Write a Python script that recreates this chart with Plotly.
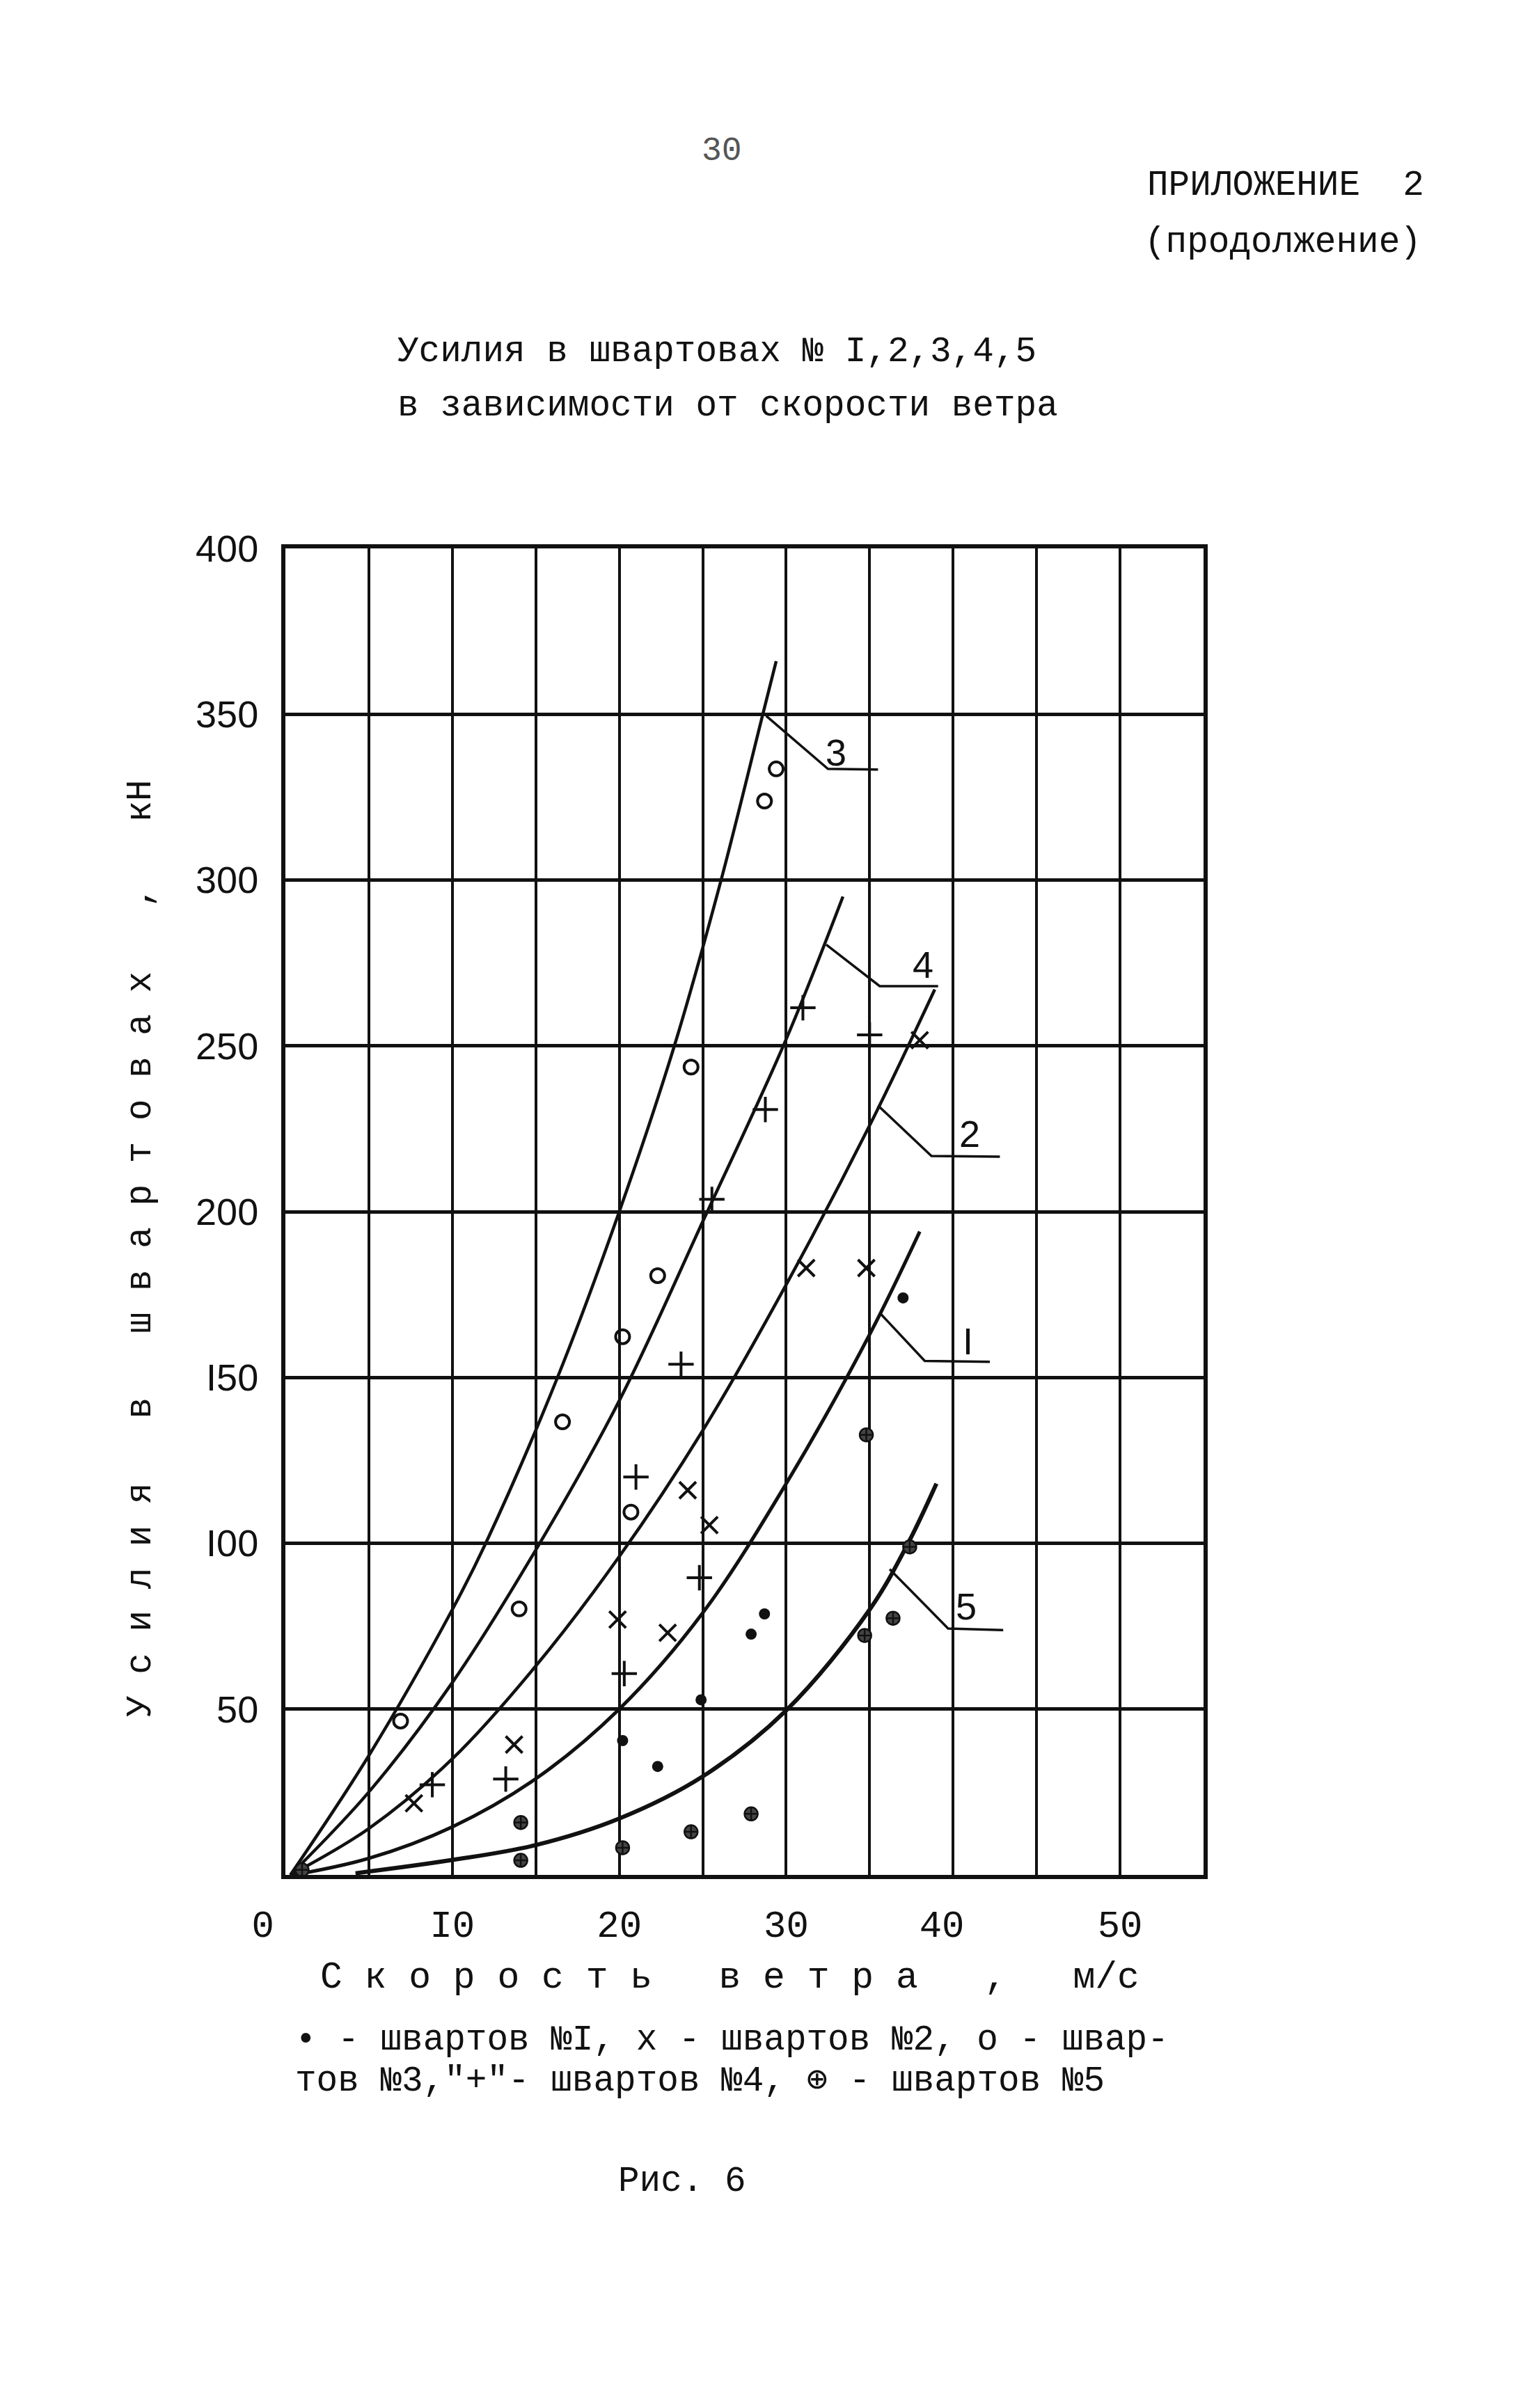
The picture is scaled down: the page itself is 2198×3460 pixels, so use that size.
import plotly.graph_objects as go

# ---------------- data ----------------
# Fitted curves: wind speed (m/s) -> force (kN)
curve3_v = [0.3, 5.0, 10.0, 12.0, 16.3, 20.0, 23.3, 26.1, 28.6, 29.4]
curve3_f = [0.0, 36.0, 80.0, 100.0, 150.0, 200.0, 250.0, 300.0, 350.0, 366.0]

curve4_v = [0.3, 5.0, 10.0, 15.0, 20.0, 25.0, 30.0, 33.4]
curve4_f = [0.0, 25.0, 58.0, 98.0, 143.0, 197.0, 252.0, 295.0]

curve2_v = [0.3, 5.0, 10.0, 15.0, 20.0, 25.0, 30.0, 35.0, 38.9]
curve2_f = [0.0, 14.0, 35.0, 63.0, 96.0, 134.0, 178.0, 226.0, 267.0]

curve1_v = [0.5, 5.0, 10.0, 15.0, 20.0, 25.0, 30.0, 35.0, 38.0]
curve1_f = [0.0, 5.0, 14.5, 29.0, 50.0, 79.0, 118.0, 163.0, 194.0]

curve5_v = [4.2, 10.0, 15.0, 20.0, 25.0, 30.0, 35.0, 37.3, 39.0]
curve5_f = [0.5, 4.5, 9.0, 17.0, 29.7, 49.6, 80.0, 100.0, 118.0]

# Measured points per mooring line
pts1_v = [37.0, 28.7, 27.9, 24.9, 20.2, 22.3]
pts1_f = [174.0, 78.7, 72.6, 52.8, 40.5, 32.7]

pts2_v = [38.0, 31.2, 34.8, 24.1, 25.4, 19.9, 22.9, 13.7, 7.7]
pts2_f = [251.7, 183.0, 183.0, 116.0, 105.5, 77.0, 73.0, 39.3, 21.6]

pts3_v = [29.4, 28.7, 24.3, 22.3, 20.2, 16.6, 20.7, 14.0, 6.9]
pts3_f = [333.5, 323.8, 243.6, 180.7, 162.3, 136.6, 109.4, 80.2, 46.4]

pts4_v = [31.0, 35.0, 28.75, 25.55, 23.7, 21.0, 24.8, 20.3, 13.2, 8.8]
pts4_f = [261.5, 253.3, 230.8, 203.7, 154.0, 120.0, 89.6, 60.7, 28.9, 27.2]

pts5_v = [37.4, 36.4, 34.7, 34.8, 27.9, 14.1, 24.3, 20.2, 14.1, 1.0]
pts5_f = [98.9, 77.4, 72.2, 132.7, 18.4, 15.8, 13.0, 8.2, 4.4, 1.5]

# Curve labels with leader lines (polyline in data units, label position)
labels_text = ["3", "4", "2", "I", "5"]
leaders_v = [[28.8, 32.5, 35.5], [32.4, 35.6, 39.1], [35.5, 38.7, 42.8],
             [35.6, 38.3, 42.2], [36.2, 39.7, 43.0]]
leaders_f = [[349.5, 333.5, 333.3], [280.5, 268.0, 268.0], [232.0, 216.8, 216.6],
             [169.5, 155.0, 154.7], [92.2, 74.3, 73.8]]
label_v = [33.0, 38.2, 41.0, 40.9, 40.8]
label_f = [338.5, 274.5, 223.5, 161.0, 81.0]

NB = "\u00a0"
x_tickvals = [0, 5, 10, 15, 20, 25, 30, 35, 40, 45, 50, 55]
x_ticktext = ["0" + NB + NB, "", "I0", "", "20", "", "30", "", "40" + NB, "", "50", ""]
y_tickvals = [0, 50, 100, 150, 200, 250, 300, 350, 400]
y_ticktext = ["", "50", "I00", "I50", "200", "250", "300", "350", "400"]

# ---------------- figure ----------------
W, H = 2198, 3460
PL, PR, PT, PB = 402, 1721, 780, 2686
MONO = "Liberation Mono, DejaVu Sans Mono, monospace"
SANS = "Liberation Sans, Arial, sans-serif"
INK = "#111111"


def px(x):
    return (x - PL) / (PR - PL)


def py(y):
    return (PB - y) / (PB - PT)


fig = go.Figure()

for cv, cf, w in [(curve3_v, curve3_f, 4.5), (curve4_v, curve4_f, 4.5),
                  (curve2_v, curve2_f, 4.5), (curve1_v, curve1_f, 5),
                  (curve5_v, curve5_f, 6)]:
    fig.add_trace(go.Scatter(x=cv, y=cf, mode="lines",
                             line=dict(color=INK, width=w, shape="spline", smoothing=1.0),
                             showlegend=False, hoverinfo="skip"))

fig.add_trace(go.Scatter(x=pts1_v, y=pts1_f, mode="markers", showlegend=False,
                         marker=dict(symbol="circle", size=16, color=INK)))
fig.add_trace(go.Scatter(x=pts2_v, y=pts2_f, mode="markers", showlegend=False,
                         marker=dict(symbol="x-thin-open", size=24, color=INK,
                                     line=dict(color=INK, width=4))))
fig.add_trace(go.Scatter(x=pts3_v, y=pts3_f, mode="markers", showlegend=False,
                         marker=dict(symbol="circle-open", size=20, color=INK,
                                     line=dict(color=INK, width=4))))
fig.add_trace(go.Scatter(x=pts4_v, y=pts4_f, mode="markers", showlegend=False,
                         marker=dict(symbol="cross-thin-open", size=26, color=INK,
                                     line=dict(color=INK, width=4))))
fig.add_trace(go.Scatter(x=pts5_v, y=pts5_f, mode="markers", showlegend=False,
                         marker=dict(symbol="circle-cross", size=19, color="#444444",
                                     line=dict(color=INK, width=2.5))))

for lv, lf in zip(leaders_v, leaders_f):
    fig.add_trace(go.Scatter(x=lv, y=lf, mode="lines", showlegend=False,
                             line=dict(color=INK, width=3.5), hoverinfo="skip"))

annotations = []
for t, lv, lf in zip(labels_text, label_v, label_f):
    annotations.append(dict(x=lv, y=lf, xref="x", yref="y", text=t, showarrow=False,
                            font=dict(family=SANS, size=54, color=INK)))


def note(text, x, y, size=51, xanchor="center", angle=0, color=INK, family=MONO):
    annotations.append(dict(x=px(x), y=py(y), xref="paper", yref="paper", text=text,
                            showarrow=False, xanchor=xanchor, yanchor="middle",
                            textangle=angle, font=dict(family=family, size=size, color=color)))


note("30", 1029, 209, size=48, color="#555555")
note("ПРИЛОЖЕНИЕ  2", 2040, 259, xanchor="right")
note("(продолжение)", 2036, 341, xanchor="right")
note("Усилия в швартовах № I,2,3,4,5", 1022, 497)
note("в зависимости от скорости ветра", 1037, 576)
note("У с и л и я   в   ш в а р т о в а х   ,   кН", 194, 1786, angle=-90)
note("С к о р о с т ь   в е т р а   ,   м/с", 1040, 2834, size=53)
note("• - швартов №I, х - швартов №2, о - швар-", 414, 2923, xanchor="left")
note("тов №3,\"+\"- швартов №4, ⊕ - швартов №5", 414, 2982, xanchor="left")
note("Рис. 6", 972, 3126)

fig.update_layout(
    width=W, height=H, autosize=False,
    margin=dict(l=PL, r=W - PR, t=PT, b=H - PB, pad=0),
    paper_bgcolor="white", plot_bgcolor="white",
    annotations=annotations,
    showlegend=False,
)
fig.update_xaxes(range=[0, 55], tickvals=x_tickvals, ticktext=x_ticktext,
                 showgrid=True, gridcolor=INK, gridwidth=3.5,
                 showline=True, linecolor=INK, linewidth=6, mirror=True,
                 zeroline=False, ticks="", ticklabelstandoff=18,
                 tickfont=dict(family=MONO, size=54, color=INK))
fig.update_yaxes(range=[0, 400], tickvals=y_tickvals, ticktext=y_ticktext,
                 showgrid=True, gridcolor=INK, gridwidth=5,
                 showline=True, linecolor=INK, linewidth=6, mirror=True,
                 zeroline=False, ticks="", ticklabelstandoff=22,
                 tickfont=dict(family=SANS, size=54, color=INK))

fig.write_html("out.html")
